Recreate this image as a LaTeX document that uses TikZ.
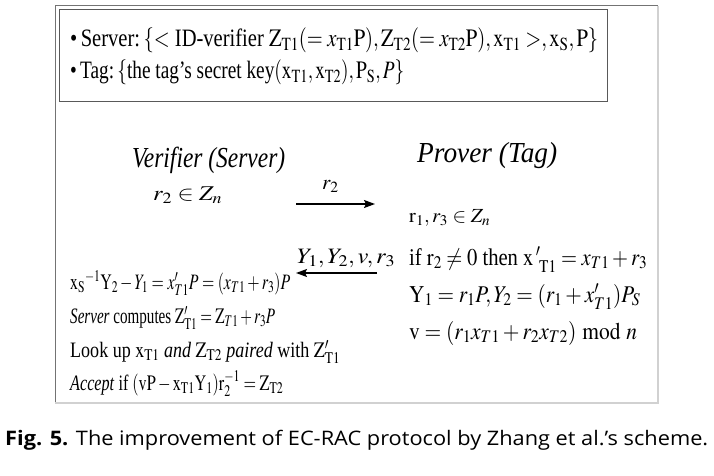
\documentclass[tikz,border=0pt]{standalone}
\usepackage{mathptmx}
\usepackage{fontspec}
\setmainfont{Liberation Serif}
\newfontfamily\capfont{Open Sans}
\usepackage{graphicx}
\usetikzlibrary{arrows.meta}

\newcommand{\fitw}[2]{\resizebox{#1}{\height}{#2}}
\tikzset{
  txt/.style={anchor=base west, inner sep=0pt},
  msg/.style={-{Stealth[length=11pt,width=8pt,inset=2pt]}, line width=1.4pt}
}

\begin{document}
\begin{tikzpicture}[x=1pt,y=-1pt]

\useasboundingbox[fill=white] (0,0) rectangle (714,476);

\draw [line width=1pt, draw=black!55] (55,403) -- (55,6) -- (658,6);
\draw [line width=1.6pt, draw=black!18] (658,6) -- (658,403) -- (55,403);
\draw [line width=1pt, draw=black!65] (59,10) rectangle (607,102);

\node [txt, font=\fontsize{25}{30}\selectfont] (srv) at (70,47) {\fitw{528pt}{\textbullet\,Server:\,$\{<$ ID-verifier $\mathrm{Z_{T1}}(=x_{\mathrm{T1}}\mathrm{P}),\mathrm{Z_{T2}}(=x_{\mathrm{T2}}\mathrm{P}),\mathrm{x_{T1}}>,\mathrm{x_S},\mathrm{P}\}$}};
\node [txt, font=\fontsize{25}{30}\selectfont] (tag) at (70,79) {\fitw{334pt}{\textbullet\,Tag:\,$\{$the tag's secret key$(\mathrm{x_{T1}},\mathrm{x_{T2}}),\mathrm{P_S},P\}$}};

\node [txt, font=\fontsize{29}{34}\selectfont\itshape] (ver) at (132,167) {\fitw{153pt}{Verifier (Server)}};
\node [txt, font=\fontsize{29}{34}\selectfont\itshape] (prv) at (417,162) {\fitw{140pt}{Prover (Tag)}};

\node [txt, font=\fontsize{21}{25}\selectfont] (rtwo) at (153,200) {\fitw{69pt}{$r_2\in Z_n$}};
\node [txt, font=\fontsize{20}{24}\selectfont] (rone) at (409,222) {\fitw{81pt}{$\mathrm{r}_1,r_3\in Z_n$}};

\coordinate (m1a) at (296,204);
\coordinate (m1b) at (375,204);
\draw [msg] (m1a) -- (m1b);
\node [txt, font=\fontsize{21}{25}\selectfont] (lab1) at (322,189) {$r_2$};

\coordinate (m2a) at (377,273);
\coordinate (m2b) at (296,273);
\draw [msg] (m2a) -- (m2b);
\node [txt, font=\fontsize{22}{26}\selectfont] (lab2) at (297,263) {\fitw{98pt}{$Y_1,Y_2,v,r_3$}};

\node [txt, font=\fontsize{24}{28}\selectfont] (ifl) at (409,265) {\fitw{238pt}{if $\mathrm{r}_2\neq0$ then $\mathrm{x}\,'_{\;\mathrm{T1}}=x_{T1}+r_3$}};
\node [txt, font=\fontsize{24}{28}\selectfont] (yl) at (409,302) {\fitw{231pt}{$\mathrm{Y}_1=r_1P,Y_2=(r_1+x'_{T1})P_S$}};
\node [txt, font=\fontsize{24}{28}\selectfont] (vl) at (409,339) {\fitw{228pt}{$\mathrm{v}=(r_1x_{T1}+r_2x_{T2})\bmod n$}};

\node [txt, font=\fontsize{22}{26}\selectfont] (chk) at (70,289) {\fitw{220pt}{$\mathrm{x_S}^{-1}\mathrm{Y}_2-Y_1=x'_{T1}P=(x_{T1}+r_3)P$}};
\node [txt, font=\fontsize{22}{26}\selectfont] (cmp) at (70,323) {\fitw{205pt}{\textit{Server} computes $\mathrm{Z}'_{\mathrm{T1}}=\mathrm{Z}_{T1}+r_3P$}};
\node [txt, font=\fontsize{22}{26}\selectfont] (lkp) at (70,357) {\fitw{270pt}{Look up $\mathrm{x_{T1}}$ \textit{and} $\mathrm{Z_{T2}}$ \textit{paired} with $\mathrm{Z'_{T1}}$}};
\node [txt, font=\fontsize{22}{26}\selectfont] (acc) at (70,390) {\fitw{213pt}{\textit{Accept} if $(\mathrm{vP - x_{T1}Y_1)r_2^{-1}=Z_{T2}}$}};

\node [txt, font=\fontsize{20}{24}\selectfont\capfont] (cap) at (5,445) {\fitw{703pt}{\textbf{Fig. 5.} The improvement of EC-RAC protocol by Zhang et al.’s scheme.}};

\end{tikzpicture}
\end{document}
